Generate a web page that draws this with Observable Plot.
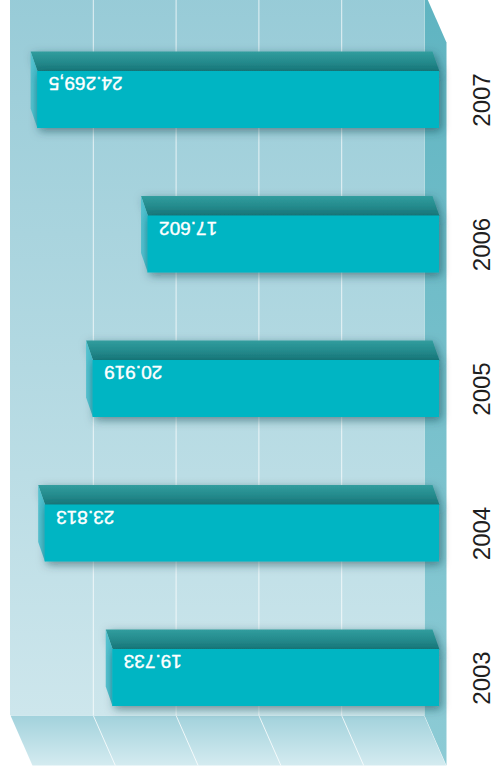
<!DOCTYPE html>
<html><head><meta charset="utf-8">
<script src="https://cdn.jsdelivr.net/npm/d3@7"></script>
<script src="https://cdn.jsdelivr.net/npm/@observablehq/plot@0.6"></script>
<style>body{margin:0;background:#fff} #chart svg{display:block}</style>
</head><body><div id="chart"></div>
<script>
const years = [2003, 2004, 2005, 2006, 2007];
const values = [19733, 23813, 20919, 17602, 24269.5];
const gridTicks = [0, 5000, 10000, 15000, 20000, 25000];

const xDomain = [0, 25000], xRange = [424, 10];
const yDomain = [2007, 2003], yRange = [99.5, 677.5];
const xs = d3.scaleLinear(xDomain, xRange);
const ys = d3.scaleLinear(yDomain, yRange);
const P = (v, yr, px, py) => ({x: xs.invert(xs(v) + px), y: ys.invert(ys(yr) + py)});

const wallTop = ys.invert(-8), wallBottom = ys.invert(715);
const FD = [22, 50];
const FRONT = 15, BACK = 8, HALF = 28.5, DEPTHY = 20;

const locale = d3.formatLocale({decimal: ",", thousands: ".", grouping: [3], currency: ["", "€"]});
const fmt = locale.format(",.1~f");

const bars = years.map((year, i) => ({year, value: values[i], label: fmt(values[i])}));

const topFaces = bars.flatMap((d, i) => [
  P(0, d.year, FRONT, -HALF), P(d.value, d.year, FRONT, -HALF),
  P(d.value, d.year, BACK, -HALF - DEPTHY), P(0, d.year, BACK, -HALF - DEPTHY)
].map(p => ({...p, id: i})));
const leftFaces = bars.flatMap((d, i) => [
  P(d.value, d.year, FRONT, -HALF), P(d.value, d.year, FRONT, HALF),
  P(d.value, d.year, BACK, HALF - DEPTHY), P(d.value, d.year, BACK, -HALF - DEPTHY)
].map(p => ({...p, id: i})));

const rightWall = [
  {x: 0, y: wallTop}, {x: 0, y: wallBottom},
  P(0, wallBottom, FD[0], FD[1]), P(0, wallTop, FD[0], FD[1])
];
const floor = [
  {x: 25000, y: wallBottom}, {x: 0, y: wallBottom},
  P(0, wallBottom, FD[0], FD[1]), P(25000, wallBottom, FD[0], FD[1])
];
const floorLines = gridTicks.slice(0, 5).map(t => {
  const b = P(t, wallBottom, FD[0], FD[1]);
  return {x1: t, y1: wallBottom, x2: b.x, y2: b.y};
});

const chart = Plot.plot({
  width: 494, height: 775,
  x: {domain: xDomain, range: xRange, axis: null},
  y: {domain: yDomain, range: yRange, axis: null},
  style: {background: "#fff", overflow: "hidden"},
  marks: [
    Plot.rect([{}], {x1: () => 25000, x2: () => 0, y1: () => wallTop, y2: () => wallBottom, fill: "url(#wallGrad)"}),
    Plot.ruleX(gridTicks.slice(0, 5), {y1: wallTop, y2: wallBottom, stroke: "#fff", strokeOpacity: 0.75, strokeWidth: 1}),
    Plot.line(floor, {x: "x", y: "y", fill: "url(#floorGrad)", stroke: "none"}),
    Plot.link(floorLines, {x1: "x1", y1: "y1", x2: "x2", y2: "y2", stroke: "#fff", strokeOpacity: 0.8, strokeWidth: 1}),
    Plot.line(rightWall, {x: "x", y: "y", fill: "url(#rightGrad)", stroke: "none"}),
    Plot.line(topFaces, {x: "x", y: "y", z: "id", fill: "url(#topGrad)", stroke: "none"}),
    Plot.line(leftFaces, {x: "x", y: "y", z: "id", fill: "url(#leftGrad)", stroke: "none"}),
    Plot.rect(bars, {x1: () => 0, x2: "value", y1: d => P(0, d.year, 0, -HALF).y, y2: d => P(0, d.year, 0, HALF).y, dx: FRONT, fill: "#00b5c3"}),
    Plot.text(bars, {x: "value", y: "year", text: "label", dx: FRONT + 11, dy: -16.5, rotate: 180, textAnchor: "end", fill: "#fff", stroke: "#fff", strokeWidth: 0.4, fontSize: 19, fontFamily: "Liberation Sans, Arial, sans-serif"}),
    Plot.text(bars, {x: () => 0, y: "year", text: d => String(d.year), dx: 58, rotate: -90, fill: "#1e1e1e", fontSize: 24, fontFamily: "Liberation Sans, Arial, sans-serif"})
  ]
});

const s = d3.select(chart);
s.insert("defs", ":first-child").html(`
  <linearGradient id="wallGrad" x1="0" y1="0" x2="0" y2="1"><stop offset="0" stop-color="#97cbd7"/><stop offset="1" stop-color="#cde6ec"/></linearGradient>
  <linearGradient id="floorGrad" x1="0" y1="0" x2="0" y2="1"><stop offset="0" stop-color="#a2d2dc"/><stop offset="1" stop-color="#d4ebf0"/></linearGradient>
  <linearGradient id="rightGrad" x1="0" y1="0" x2="0" y2="1"><stop offset="0" stop-color="#5fb4c1"/><stop offset="1" stop-color="#8dcbd5"/></linearGradient>
  <linearGradient id="topGrad" x1="0" y1="0" x2="0" y2="1"><stop offset="0" stop-color="#319d9e"/><stop offset="1" stop-color="#18797c"/></linearGradient>
  <linearGradient id="leftGrad" x1="0" y1="0" x2="1" y2="0"><stop offset="0" stop-color="#58c3d0"/><stop offset="1" stop-color="#3fb6c5"/></linearGradient>
  <filter id="shadow" x="-10%" y="-60%" width="120%" height="220%"><feDropShadow dx="2" dy="3" stdDeviation="5" flood-color="#0b3d48" flood-opacity="0.55"/></filter>
`);
const groups = s.selectAll(":scope > g").nodes();
[5, 7].forEach(i => groups[i] && groups[i].setAttribute("filter", "url(#shadow)"));
document.getElementById("chart").append(chart);
</script></body></html>
